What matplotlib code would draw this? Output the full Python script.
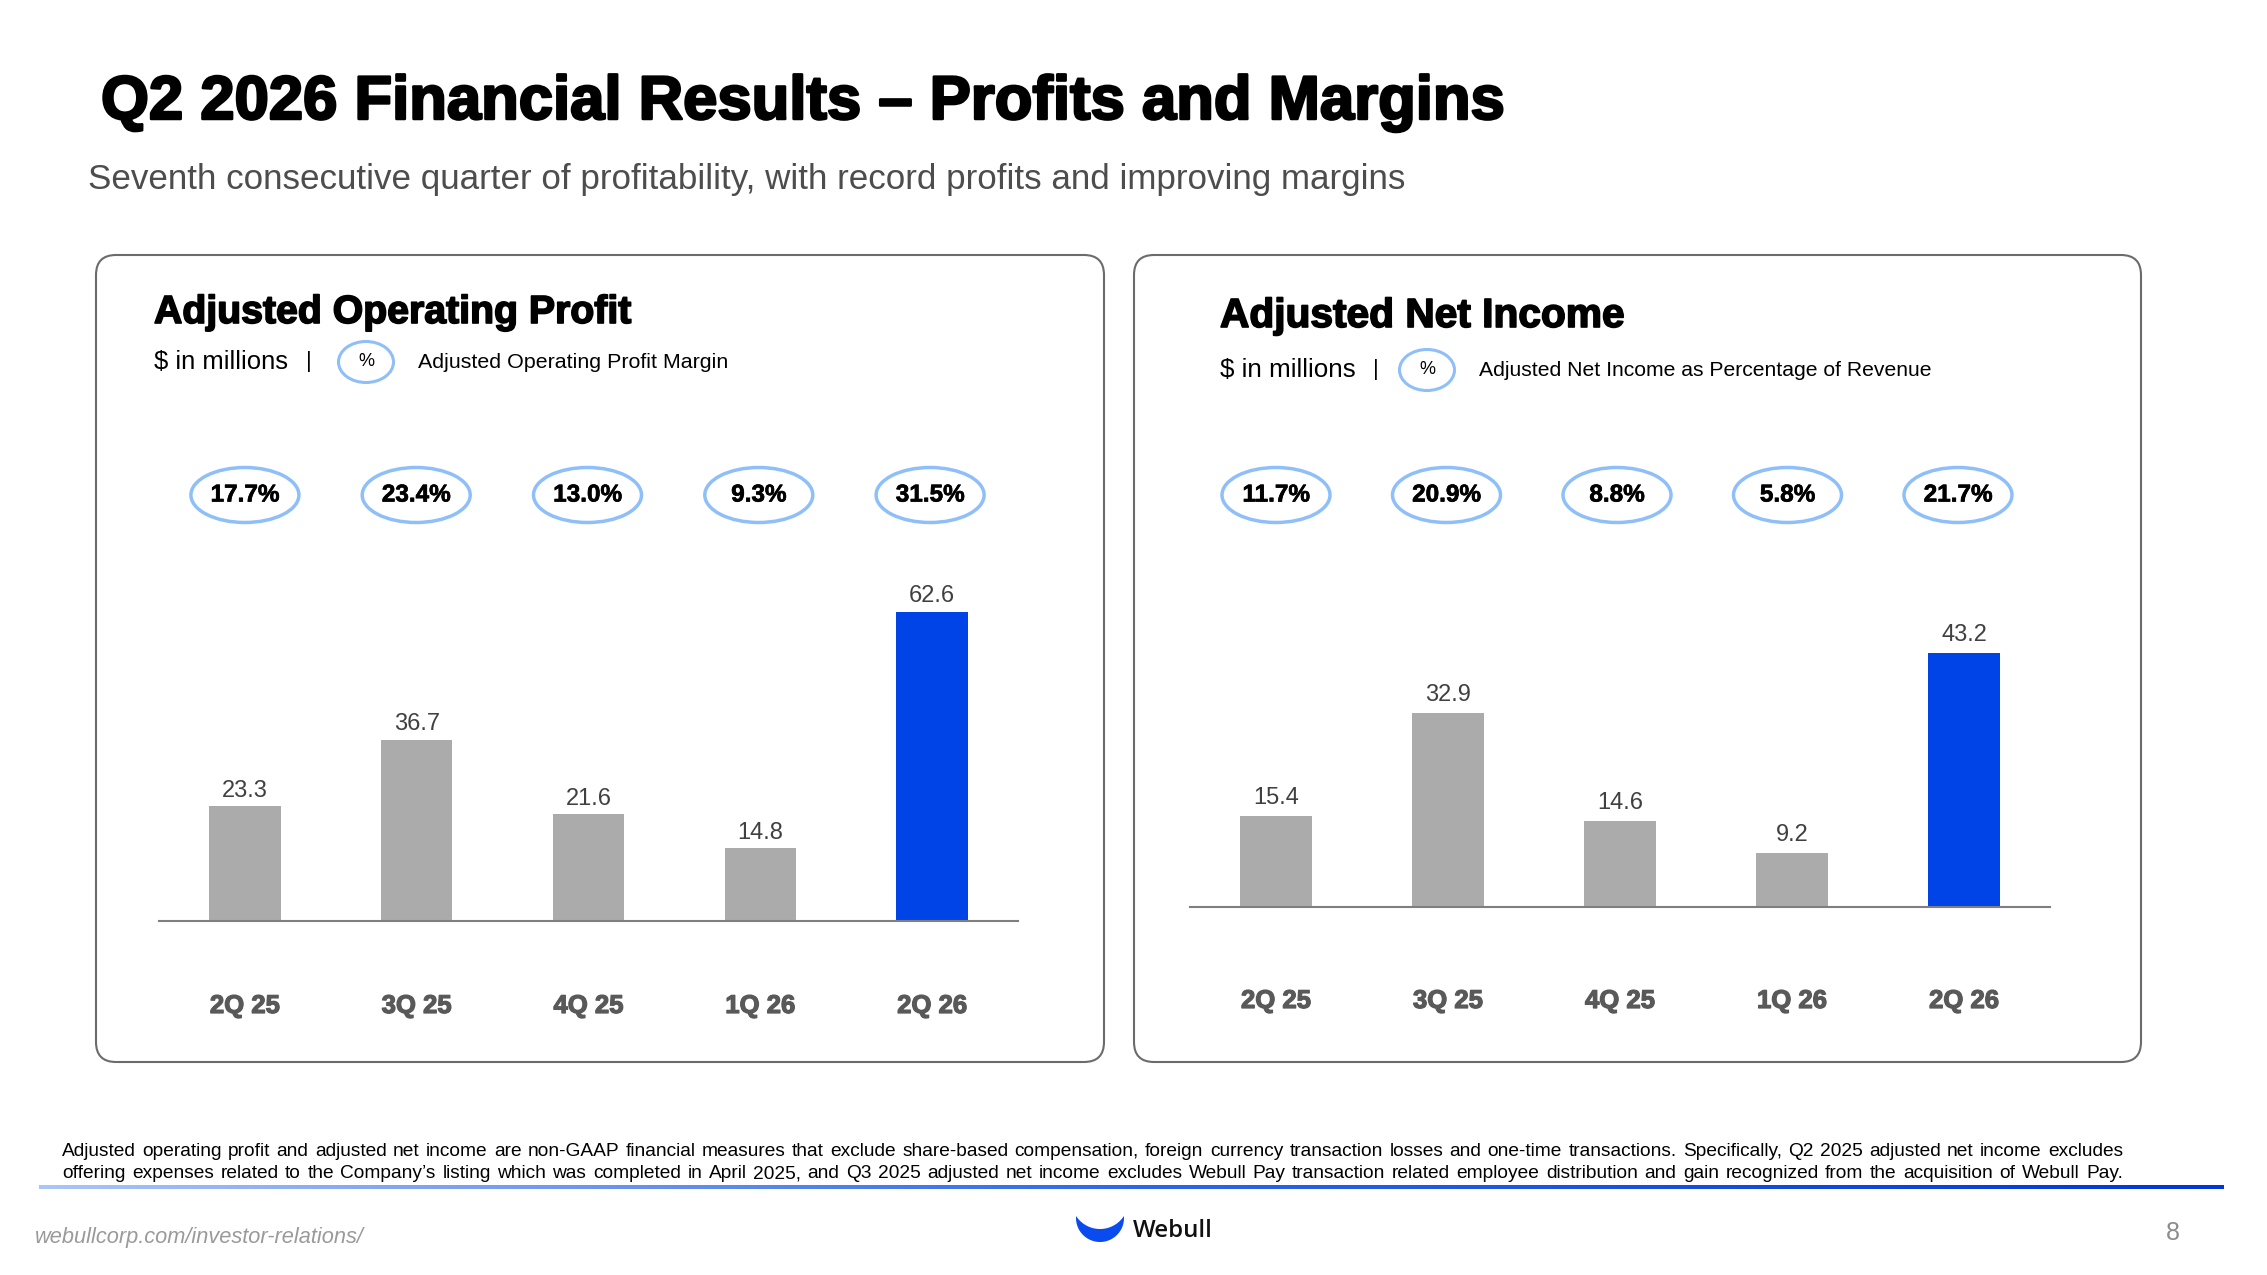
import numpy as np
import matplotlib
matplotlib.use('Agg')
import matplotlib.pyplot as plt
import matplotlib.patheffects as pe
from matplotlib.patches import FancyBboxPatch, Ellipse, PathPatch
from matplotlib.path import Path
from matplotlib.colors import LinearSegmentedColormap

W, H = 2267, 1275

quarters = ['2Q 25', '3Q 25', '4Q 25', '1Q 26', '2Q 26']
op_profit = [23.3, 36.7, 21.6, 14.8, 62.6]
op_margin = ['17.7%', '23.4%', '13.0%', '9.3%', '31.5%']
net_income = [15.4, 32.9, 14.6, 9.2, 43.2]
net_margin = ['11.7%', '20.9%', '8.8%', '5.8%', '21.7%']

title = 'Q2 2026 Financial Results \u2013 Profits and Margins'
subtitle = ('Seventh consecutive quarter of profitability, with record profits '
            'and improving margins')
footnote = [
    'Adjusted operating profit and adjusted net income are non-GAAP financial measures '
    'that exclude share-based compensation, foreign currency transaction losses and '
    'one-time transactions. Specifically, Q2 2025 adjusted net income excludes',
    'offering expenses related to the Company\u2019s listing which was completed in April '
    '2025, and Q3 2025 adjusted net income excludes Webull Pay transaction related '
    'employee distribution and gain recognized from the acquisition of Webull Pay.',
]

GREY_BAR = '#ABABAB'
BLUE = '#0044E8'
RING = '#8FBFF8'
AXIS = '#7F7F7F'
BOX = '#6B6B6B'

plt.rcParams['font.family'] = ['Liberation Sans', 'DejaVu Sans']

fig = plt.figure(figsize=(W / 100, H / 100), dpi=100)
bg = fig.add_axes([0, 0, 1, 1])
bg.set_xlim(0, W)
bg.set_ylim(H, 0)
bg.axis('off')
renderer = fig.canvas.get_renderer()


def text_w(t):
    return t.get_window_extent(renderer).width


def fit(x, y, s, width, size=20, **kw):
    # scale the font so the string spans `width` pixels
    t = bg.text(x, y, s, fontsize=size, **kw)
    t.set_fontsize(size * width / text_w(t))
    return t


def heavy(color, lw=1.2):
    return [pe.withStroke(linewidth=lw, foreground=color)]


def justify(x0, x1, y, s, size, **kw):
    words = s.split()
    objs = [bg.text(x0, y, w, fontsize=size, **kw) for w in words]
    widths = [text_w(o) for o in objs]
    gap = (x1 - x0 - sum(widths)) / (len(words) - 1)
    x = x0
    for o, w in zip(objs, widths):
        o.set_x(x)
        x += w + gap


def draw_panel(box_x, head, head_xy, head_w, row_y, unit_w, pipe_x, pct_x, legend, legend_x,
               legend_w, ax_x, base_y, top_y, ymax, values, margins, ring_y, ring_dx,
               label_y, label_pad):
    bg.add_patch(FancyBboxPatch((box_x[0], 255), box_x[1] - box_x[0], 1062 - 255,
                                boxstyle='round,pad=0,rounding_size=20',
                                fc='none', ec=BOX, lw=1.5))
    fit(head_xy[0], head_xy[1], head, head_w, 26, fontweight='bold', va='baseline',
        path_effects=heavy('black', 1.2))
    fit(head_xy[0], row_y, '$ in millions', unit_w, 16, va='center')
    bg.text(pipe_x, row_y, '|', fontsize=16, va='center', ha='center')
    bg.add_patch(Ellipse((pct_x, row_y), 55, 41, fc='white', ec=RING, lw=2.2))
    bg.text(pct_x, row_y, '%', fontsize=13, ha='center', va='center')
    fit(legend_x, row_y, legend, legend_w, 14, va='center')

    ax = fig.add_axes([ax_x[0] / W, 1 - base_y / H, (ax_x[1] - ax_x[0]) / W,
                       (base_y - top_y) / H])
    x = np.arange(len(quarters))
    colors = [GREY_BAR] * (len(quarters) - 1) + [BLUE]
    bars = ax.bar(x, values, width=0.415, color=colors)
    ax.set_xlim(-0.5, len(quarters) - 0.5)
    ax.set_ylim(0, ymax)
    ax.bar_label(bars, labels=[f'{v:.1f}' for v in values], padding=label_pad,
                 fontsize=17, color='#404040')
    for s in ['top', 'left', 'right']:
        ax.spines[s].set_visible(False)
    ax.spines['bottom'].set_color(AXIS)
    ax.spines['bottom'].set_linewidth(1.5)
    ax.set_yticks([])
    ax.set_xticks(x, quarters)
    ax.tick_params(axis='x', length=0, pad=(label_y - base_y - 13) * 0.72,
                   labelsize=18.5, labelcolor='#595959')
    for lab in ax.get_xticklabels():
        lab.set_fontweight('bold')
        lab.set_path_effects(heavy('#595959', 0.9))
    ax.patch.set_alpha(0)

    for i, m in enumerate(margins):
        cx = ax.transData.transform((i, 0))[0] + ring_dx * i
        bg.add_patch(Ellipse((cx, ring_y), 108, 55, fc='white', ec=RING, lw=2.5))
        bg.text(cx, ring_y, m, fontsize=17.5, fontweight='bold', ha='center', va='center',
                path_effects=heavy('black', 0.5))
    return ax


# headline block
fit(101, 119, title, 1404, 44, fontweight='bold', va='baseline',
    path_effects=heavy('black', 1.8))
fit(88, 189, subtitle, 1318, 21, color='#4D4D4D', va='baseline')

draw_panel((96, 1104), 'Adjusted Operating Profit', (154, 323), 478, 362, 134, 309, 366,
           'Adjusted Operating Profit Margin', 418, 312,
           (159, 1018), 921, 575, 70, op_profit, op_margin, 495, -0.5, 1007, 3)
draw_panel((1134, 2141), 'Adjusted Net Income', (1220, 327), 405, 370, 136, 1376, 1427,
           'Adjusted Net Income as Percentage of Revenue', 1479, 456,
           (1190, 2050), 907, 554, 60, net_income, net_margin, 495, -1.5, 1002, 5)

# footnote, justified to the slide width
probe = [bg.text(0, 0, s, fontsize=13) for s in footnote]
size = 13 * 0.985 * (2123 - 62) / max(text_w(p) for p in probe)
for p in probe:
    p.remove()
justify(62, 2123, 1152, footnote[0], size, va='center', color='black')
justify(62, 2123, 1174, footnote[1], size, va='center', color='black')

# gradient rule
grad = LinearSegmentedColormap.from_list('rule', ['#A9C6F8', '#2F66E8', '#0037D6'])
bg.imshow(np.linspace(0, 1, 256)[None, :], cmap=grad, aspect='auto',
          extent=(39, 2224, 1189, 1185))

# footer
fit(35, 1237, 'webullcorp.com/investor-relations/', 330, 15, style='italic',
    color='#9A9A9A', va='center')
bg.text(2173, 1233, '8', fontsize=18, color='#8C8C8C', ha='center', va='center')

# logo crescent
cx, cy, r = 1100, 1218, 24
t_out = np.linspace(np.arcsin(-2 / r), np.pi - np.arcsin(-2 / r), 60)
outer = np.column_stack([cx + r * np.cos(t_out), cy + r * np.sin(t_out)])
a, h = outer[0, 0] - cx, 13.0
r2 = (a ** 2 + h ** 2) / (2 * h)
xs = np.linspace(-a, a, 60)
inner = np.column_stack([cx + xs, (cy - 2 + h - r2) + np.sqrt(r2 ** 2 - xs ** 2)])
verts = np.vstack([outer, inner, outer[:1]])
codes = [Path.MOVETO] + [Path.LINETO] * (len(verts) - 2) + [Path.CLOSEPOLY]
bg.add_patch(PathPatch(Path(verts, codes), fc='#0A4BF0', ec='none'))
fit(1133, 1231, 'Webull', 80, 16, family=['Open Sans', 'Liberation Sans'],
    fontweight='semibold', color='#111111', va='center')

bg.set_xlim(0, W)
bg.set_ylim(H, 0)

fig.savefig('out.png', dpi=100, facecolor='white')
